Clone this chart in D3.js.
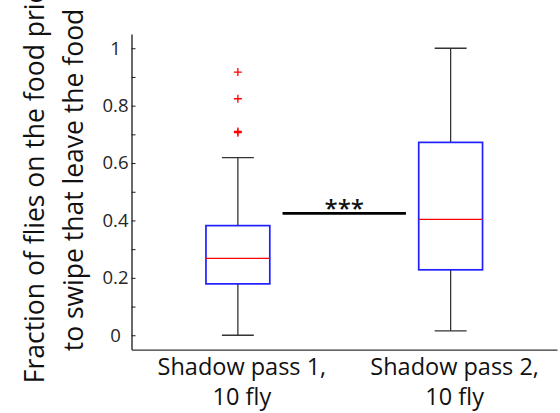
<!DOCTYPE html>
<html>
<head>
<meta charset="utf-8">
<script src="https://cdn.jsdelivr.net/npm/d3@7"></script>
<style>
  html, body { margin: 0; padding: 0; background: #fff; }
  svg { display: block; }
  text { font-family: "Open Sans", "Noto Sans", sans-serif; }
</style>
</head>
<body>
<svg id="chart" width="560" height="413"></svg>
<script>
// Groups on the x axis (positions 1 and 2)
const categories = ["Shadow pass 1,|10 fly", "Shadow pass 2,|10 fly"];
const positions = [1, 2];

// Box statistics per group: lower whisker, Q1, median, Q3, upper whisker
const whiskerLow  = [0.000, 0.015];
const quartile1   = [0.179, 0.228];
const medians     = [0.268, 0.404];
const quartile3   = [0.382, 0.672];
const whiskerHigh = [0.619, 1.000];

// Outliers (group index, value)
const outlierGroup = [0, 0, 0, 0];
const outlierValue = [0.917, 0.824, 0.710, 0.706];

// Significance bar between the groups
const sigFrom = [1.21];
const sigTo = [1.79];
const sigLevel = [0.425];
const sigLabel = ["***"];

// Axis ticks
const yTicks = [0, 0.1, 0.2, 0.3, 0.4, 0.5, 0.6, 0.7, 0.8, 0.9, 1];
const yTickLabels = ["0", "", "0.2", "", "0.4", "", "0.6", "", "0.8", "", "1"];
const yLabelLines = ["Fraction of flies on the food prior", "to swipe that leave the food"];

const svg = d3.select("#chart");

const x = d3.scaleLinear().domain([0.5, 2.5]).range([131.5, 557]);
const y = d3.scaleLinear().domain([-0.05, 1.05]).range([349.6, 33.9]);

const boxHalf = 0.15;   // half box width in x units
const capHalf = 0.075;  // half whisker cap width

// Y axis with inward ticks
const yAxis = d3.axisLeft(y)
  .tickValues(yTicks)
  .tickSizeInner(-4)
  .tickSizeOuter(0)
  .tickPadding(0)
  .tickFormat((d, i) => yTickLabels[i]);

const gy = svg.append("g")
  .attr("transform", `translate(${x(0.5)},0)`)
  .call(yAxis);
gy.select(".domain").attr("stroke", "#1a1a1a").attr("stroke-width", 1.3);
gy.selectAll(".tick line").attr("stroke", "#1a1a1a").attr("stroke-width", 1);
gy.selectAll(".tick text")
  .attr("x", -16)
  .attr("text-anchor", "middle")
  .attr("fill", "#262626")
  .style("font-size", "18.5px")
  .style("font-family", "'Open Sans', sans-serif");

// X axis baseline
const xAxis = d3.axisBottom(x).tickValues([]).tickSizeOuter(0);
const gx = svg.append("g")
  .attr("transform", `translate(0,${y(-0.05)})`)
  .call(xAxis);
gx.select(".domain").attr("stroke", "#333").attr("stroke-width", 1.2);

// X category labels (two lines each)
categories.forEach((c, i) => {
  const lines = c.split("|");
  const t = svg.append("text")
    .attr("text-anchor", "middle")
    .attr("fill", "#111")
    .style("font-size", "23.5px");
  lines.forEach((ln, j) => {
    t.append("tspan")
      .attr("x", x(positions[i]) + 4)
      .attr("y", 375 + j * 30)
      .text(ln);
  });
});

// Y axis title, two lines, rotated
const yl = svg.append("text")
  .attr("transform", "translate(0,180) rotate(-90)")
  .attr("text-anchor", "middle")
  .attr("fill", "#111")
  .style("font-size", "26.5px");
yLabelLines.forEach((ln, j) => {
  yl.append("tspan")
    .attr("x", 0)
    .attr("y", 44 + j * 39)
    .text(ln);
});

// Boxes
const groups = svg.append("g").selectAll("g")
  .data(positions.map((p, i) => ({ p, i })))
  .join("g");

const whiskerColor = "#333";

// whisker stems
groups.append("line")
  .attr("x1", d => x(d.p)).attr("x2", d => x(d.p))
  .attr("y1", d => y(quartile3[d.i])).attr("y2", d => y(whiskerHigh[d.i]))
  .attr("stroke", whiskerColor).attr("stroke-width", 1.3);
groups.append("line")
  .attr("x1", d => x(d.p)).attr("x2", d => x(d.p))
  .attr("y1", d => y(quartile1[d.i])).attr("y2", d => y(whiskerLow[d.i]))
  .attr("stroke", whiskerColor).attr("stroke-width", 1.3);
// caps
groups.append("line")
  .attr("x1", d => x(d.p - capHalf)).attr("x2", d => x(d.p + capHalf))
  .attr("y1", d => y(whiskerHigh[d.i])).attr("y2", d => y(whiskerHigh[d.i]))
  .attr("stroke", whiskerColor).attr("stroke-width", 1.3);
groups.append("line")
  .attr("x1", d => x(d.p - capHalf)).attr("x2", d => x(d.p + capHalf))
  .attr("y1", d => y(whiskerLow[d.i])).attr("y2", d => y(whiskerLow[d.i]))
  .attr("stroke", whiskerColor).attr("stroke-width", 1.3);
// box
groups.append("rect")
  .attr("x", d => x(d.p - boxHalf))
  .attr("width", d => x(d.p + boxHalf) - x(d.p - boxHalf))
  .attr("y", d => y(quartile3[d.i]))
  .attr("height", d => y(quartile1[d.i]) - y(quartile3[d.i]))
  .attr("fill", "none")
  .attr("stroke", "#1f1fff")
  .attr("stroke-width", 1.7);
// median
groups.append("line")
  .attr("x1", d => x(d.p - boxHalf)).attr("x2", d => x(d.p + boxHalf))
  .attr("y1", d => y(medians[d.i])).attr("y2", d => y(medians[d.i]))
  .attr("stroke", "#ff0000").attr("stroke-width", 1.2);

// Outliers as red plus signs
svg.append("g").selectAll("path")
  .data(outlierValue.map((v, k) => ({ v, g: outlierGroup[k] })))
  .join("path")
  .attr("transform", d => `translate(${x(positions[d.g])},${y(d.v)})`)
  .attr("d", "M-4,0H4M0,-4V4")
  .attr("stroke", "#ff0000")
  .attr("stroke-width", 1.3)
  .attr("fill", "none");

// Significance bar
sigLevel.forEach((lv, k) => {
  svg.append("line")
    .attr("x1", x(sigFrom[k])).attr("x2", x(sigTo[k]))
    .attr("y1", y(lv)).attr("y2", y(lv))
    .attr("stroke", "#000").attr("stroke-width", 2.8);
  svg.append("text")
    .attr("x", (x(sigFrom[k]) + x(sigTo[k])) / 2)
    .attr("y", y(lv) + 4)
    .attr("text-anchor", "middle")
    .attr("fill", "#111")
    .style("font-size", "24px")
    .style("font-weight", "600")
    .text(sigLabel[k]);
});
</script>
</body>
</html>
